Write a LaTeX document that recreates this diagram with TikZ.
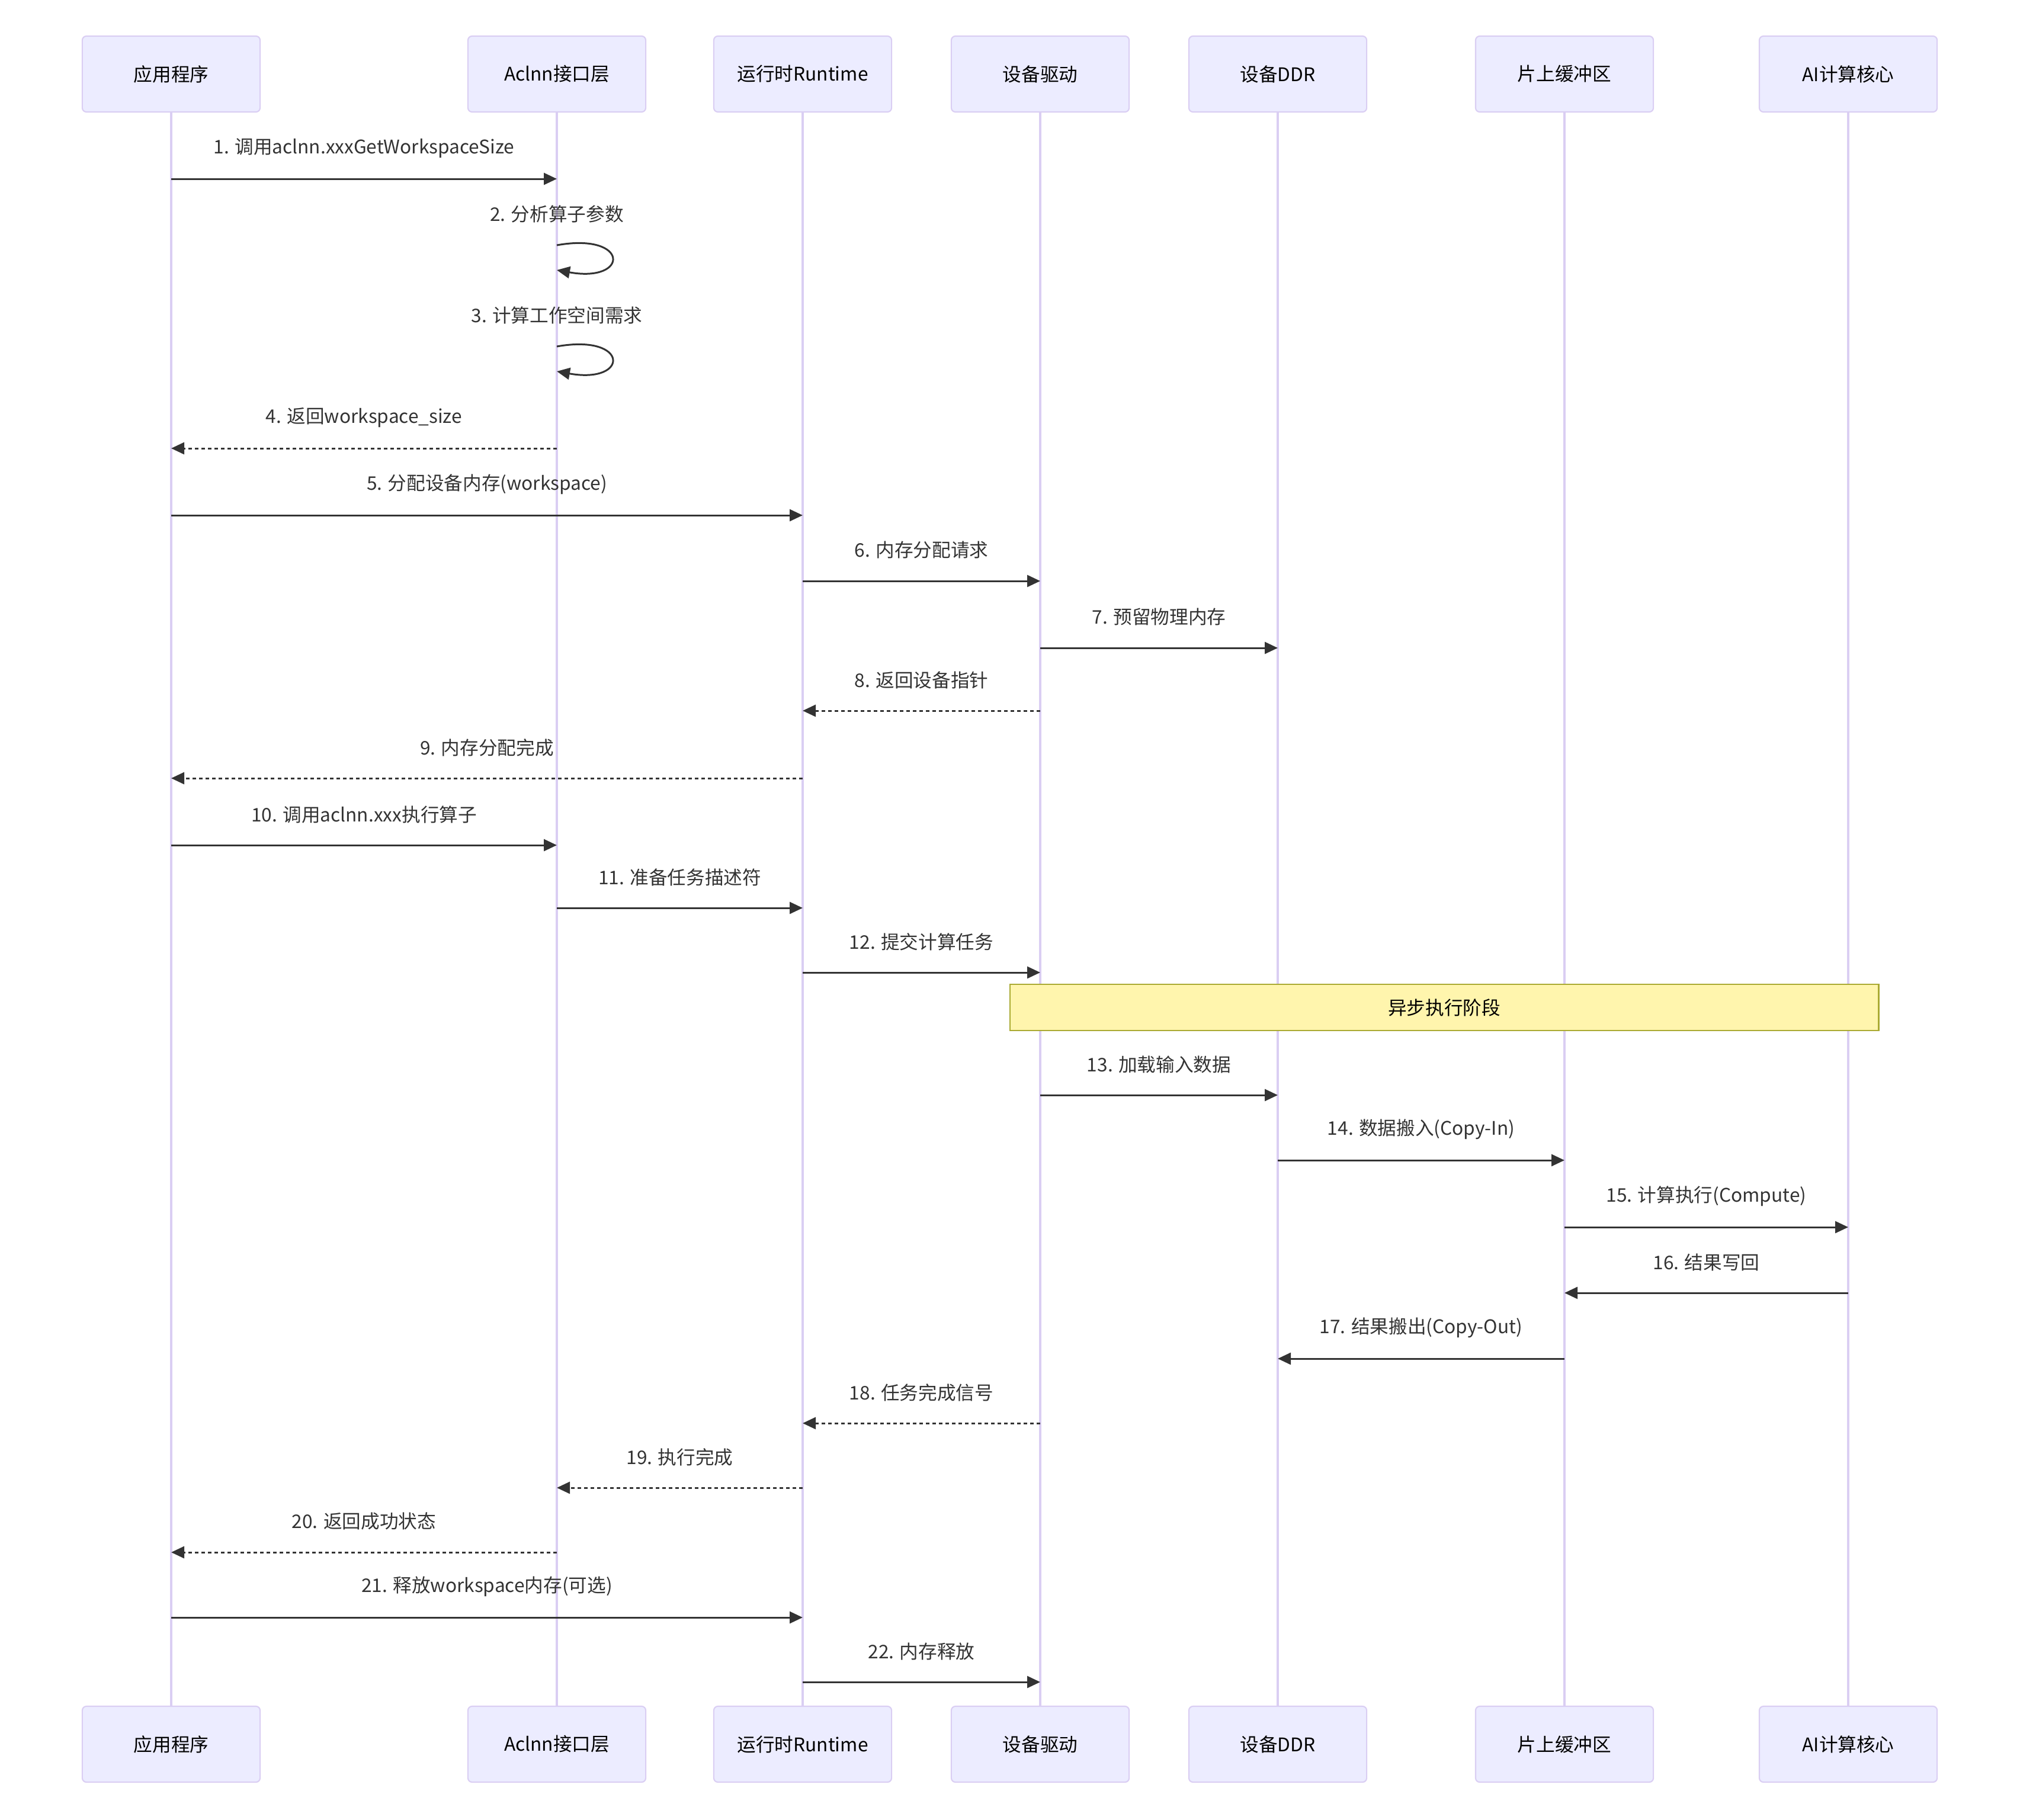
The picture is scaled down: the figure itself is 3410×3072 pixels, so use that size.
\documentclass[tikz,border=0pt]{standalone}
\usepackage{fontspec}
\setmainfont{Noto Sans CJK SC}
\usetikzlibrary{arrows.meta}

\definecolor{seqActorFill}{HTML}{ECECFF}
\definecolor{seqActorLine}{HTML}{DACEF3}
\definecolor{seqInk}{HTML}{333333}
\definecolor{seqNoteFill}{HTML}{FFF5AD}
\definecolor{seqNoteLine}{HTML}{AAAA33}

\begin{document}
\begin{tikzpicture}[x=0.01cm,y=-0.01cm,
  actor/.style={draw=seqActorLine,fill=seqActorFill,line width=0.6pt,rounded corners=2pt,
    minimum width=3cm,minimum height=1.28cm,inner sep=0pt,
    font=\fontsize{9}{11}\selectfont,text=black},
  lifeline/.style={draw=seqActorLine,line width=1pt},
  msg/.style={draw=seqInk,line width=0.85pt,-{Triangle[length=0.22cm,width=0.2cm]}},
  reply/.style={msg,dash pattern=on 0.06cm off 0.05cm},
  msglabel/.style={font=\fontsize{9}{11}\selectfont,text=seqInk,inner sep=0pt},
  note/.style={draw=seqNoteLine,fill=seqNoteFill,line width=0.6pt,
    minimum width=14.66cm,minimum height=0.78cm,inner sep=0pt,
    font=\fontsize{9}{11}\selectfont,text=black}]
  \useasboundingbox (0,0) rectangle (3410,3072);

  \foreach \name/\x/\actorname in {app/289/应用程序, aclnn/940/Aclnn接口层,
    rt/1355/运行时Runtime, drv/1756/设备驱动, ddr/2157/设备DDR,
    buf/2641/片上缓冲区, core/3120/AI计算核心}{
    \node[actor] (\name) at (\x,125) {\actorname};
    \node[actor] (\name-end) at (\x,2945) {\actorname};
    \draw[lifeline] (\name) -- (\name-end);
  }

  \node[note] (async) at (2438,1701) {异步执行阶段};

  \foreach \y/\txt [count=\i] in {414/{2. 分析算子参数}, 585/{3. 计算工作空间需求}}{
    \node[msglabel] (loop\i) at (aclnn |- 0,\y-53) {\txt};
    \draw[msg] (aclnn |- 0,\y) .. controls +(123,-22) and +(123,22) .. (aclnn |- 0,\y+42);
  }

  \foreach \from/\to/\y/\sty/\txt [count=\i] in {
    app/aclnn/302/msg/{1. 调用aclnn.xxxGetWorkspaceSize},
    aclnn/app/757/reply/{4. 返回workspace\_size},
    app/rt/870/msg/{5. 分配设备内存(workspace)},
    rt/drv/981/msg/{6. 内存分配请求},
    drv/ddr/1094/msg/{7. 预留物理内存},
    drv/rt/1200/reply/{8. 返回设备指针},
    rt/app/1314/reply/{9. 内存分配完成},
    app/aclnn/1427/msg/{10. 调用aclnn.xxx执行算子},
    aclnn/rt/1533/msg/{11. 准备任务描述符},
    rt/drv/1642/msg/{12. 提交计算任务},
    drv/ddr/1849/msg/{13. 加载输入数据},
    ddr/buf/1959/msg/{14. 数据搬入(Copy-In)},
    buf/core/2072/msg/{15. 计算执行(Compute)},
    core/buf/2183/msg/{16. 结果写回},
    buf/ddr/2294/msg/{17. 结果搬出(Copy-Out)},
    drv/rt/2403/reply/{18. 任务完成信号},
    rt/aclnn/2512/reply/{19. 执行完成},
    aclnn/app/2621/reply/{20. 返回成功状态},
    app/rt/2731/msg/{21. 释放workspace内存(可选)},
    rt/drv/2840/msg/{22. 内存释放}
  }{
    \draw[\sty] (\from |- 0,\y) -- (\to |- 0,\y)
      node[msglabel,midway,yshift=0.52cm] (msg\i) {\txt};
  }
\end{tikzpicture}
\end{document}
